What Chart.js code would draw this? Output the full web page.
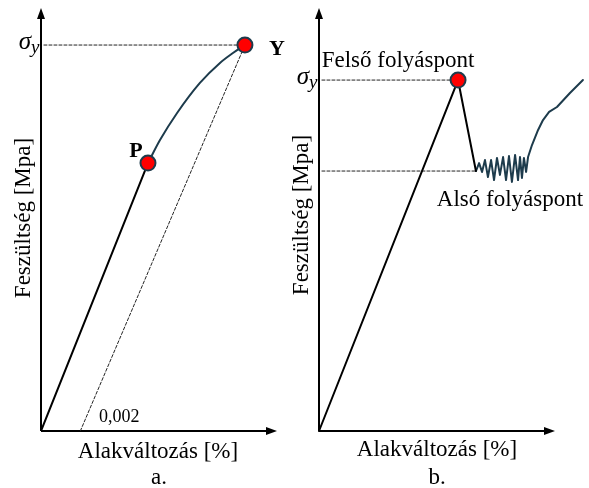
<!DOCTYPE html>
<html>
<head>
<meta charset="utf-8">
<script src="https://cdn.jsdelivr.net/npm/chart.js@4.4.0/dist/chart.umd.min.js"></script>
<style>
  html, body { margin: 0; padding: 0; background: #ffffff; }
  #wrap { position: relative; width: 589px; height: 488px; overflow: hidden; }
  canvas { position: absolute; top: 0; }
  #panelA { left: 0; }
  #panelB { left: 280px; }
</style>
</head>
<body>
<div id="wrap">
  <canvas id="panelA" width="295" height="488"></canvas>
  <canvas id="panelB" width="309" height="488"></canvas>
</div>
<script>
// ---- Panel a: offset (0,2 %) yield method ----
const strainAxisMaxA = 0.012;
const stressAxisMaxA = 280;
const offsetStrain = 0.002;
const proportionalPoint = [0.00544, 178.2];   // P
const yieldPointA = [0.01037, 256.7];         // Y
const plasticStrainA = [0.00544, 0.00605, 0.00692, 0.00808, 0.00910, 0.00976, 0.01037];
const plasticStressA = [178.2, 193.5, 211.5, 231.5, 244.8, 251.4, 256.7];

// ---- Panel b: upper / lower yield point ----
const strainAxisMaxB = 1.2;     // where the drawn strain axis (arrow) ends
const strainRangeMaxB = 1.35;   // the hardening curve runs on past the arrow
const stressAxisMaxB = 280;
const upperYield = [0.707, 233.4];
const lowerYield = [0.798, 172.9];
const serrationStrain = [0.798, 0.814, 0.829, 0.844, 0.859, 0.875, 0.890, 0.905, 0.920, 0.936,
                         0.951, 0.966, 0.981, 0.997, 1.012, 1.022, 1.032, 1.042, 1.053, 1.063];
const serrationStress = [172.9, 178.2, 172.3, 180.2, 168.9, 180.2, 166.9, 181.6, 170.3, 182.2,
                         166.9, 182.9, 165.6, 183.6, 166.9, 182.2, 168.3, 181.6, 172.3, 182.2];
const hardeningStrain = [1.063, 1.083, 1.114, 1.139, 1.170, 1.210, 1.276, 1.342];
const hardeningStress = [182.2, 190.2, 200.2, 206.8, 212.2, 215.5, 224.8, 233.4];

const SERIF = '"Liberation Serif", "Times New Roman", serif';
const CURVE = '#1d3b4c';
const MARKER_EDGE = '#1d3b4c';

const pts = (xs, ys) => xs.map((x, i) => ({ x, y: ys[i] }));

function drawArrowAxes(ctx, ox, oy, topY, rightX) {
  ctx.save();
  ctx.strokeStyle = '#000';
  ctx.fillStyle = '#000';
  ctx.lineWidth = 2;
  ctx.beginPath();
  ctx.moveTo(ox, oy);
  ctx.lineTo(ox, topY + 8);
  ctx.moveTo(ox, oy);
  ctx.lineTo(rightX - 8, oy);
  ctx.stroke();
  // arrow heads
  ctx.beginPath();
  ctx.moveTo(ox, topY - 2);
  ctx.lineTo(ox - 4, topY + 9);
  ctx.lineTo(ox + 4, topY + 9);
  ctx.closePath();
  ctx.fill();
  ctx.beginPath();
  ctx.moveTo(rightX, oy);
  ctx.lineTo(rightX - 11, oy - 4);
  ctx.lineTo(rightX - 11, oy + 4);
  ctx.closePath();
  ctx.fill();
  ctx.restore();
}

function drawSigmaY(ctx, rightX, baseY) {
  ctx.save();
  ctx.fillStyle = '#000';
  ctx.textBaseline = 'alphabetic';
  ctx.textAlign = 'right';
  ctx.font = 'italic 25px ' + SERIF;
  ctx.fillText('σ', rightX - 10, baseY);
  ctx.textAlign = 'left';
  ctx.font = 'italic 19px ' + SERIF;
  ctx.fillText('y', rightX - 10, baseY + 4);
  ctx.restore();
}

function drawVerticalTitle(ctx, text, cx, cy) {
  ctx.save();
  ctx.translate(cx, cy);
  ctx.rotate(-Math.PI / 2);
  ctx.fillStyle = '#000';
  ctx.font = '23px ' + SERIF;
  ctx.textAlign = 'center';
  ctx.textBaseline = 'middle';
  ctx.fillText(text, 0, 0);
  ctx.restore();
}

function drawText(ctx, text, x, y, font, align) {
  ctx.save();
  ctx.fillStyle = '#000';
  ctx.font = font;
  ctx.textAlign = align || 'center';
  ctx.textBaseline = 'middle';
  ctx.fillText(text, x, y);
  ctx.restore();
}

const hiddenScales = (xMax, yMax) => ({
  x: { type: 'linear', min: 0, max: xMax, display: false },
  y: { type: 'linear', min: 0, max: yMax, display: false }
});

const baseOptions = {
  responsive: false,
  animation: false,
  devicePixelRatio: 1,
  plugins: { legend: { display: false }, tooltip: { enabled: false } },
  elements: { point: { radius: 0 }, line: { borderCapStyle: 'round', borderJoinStyle: 'round' } }
};

// ---- Panel a chart ----
new Chart(document.getElementById('panelA'), {
  type: 'scatter',
  data: {
    datasets: [
      { // P and Y markers
        data: [{ x: proportionalPoint[0], y: proportionalPoint[1] }, { x: yieldPointA[0], y: yieldPointA[1] }],
        pointRadius: 7.5, pointBackgroundColor: '#ff0000', pointBorderColor: MARKER_EDGE, pointBorderWidth: 2,
        showLine: false, order: 0, clip: false
      },
      { // elastic part
        data: [{ x: 0, y: 0 }, { x: proportionalPoint[0], y: proportionalPoint[1] }],
        showLine: true, borderColor: '#000', borderWidth: 2, order: 2
      },
      { // plastic part
        data: pts(plasticStrainA, plasticStressA),
        showLine: true, borderColor: CURVE, borderWidth: 2, cubicInterpolationMode: 'monotone', order: 2
      },
      { // 0,2 % offset line
        data: [{ x: offsetStrain, y: 0 }, { x: yieldPointA[0], y: yieldPointA[1] }],
        showLine: true, borderColor: '#222', borderWidth: 1, borderDash: [3, 2], order: 3
      },
      { // yield stress level
        data: [{ x: 0.00015, y: yieldPointA[1] }, { x: yieldPointA[0], y: yieldPointA[1] }],
        showLine: true, borderColor: '#222', borderWidth: 1, borderDash: [3, 2], order: 3
      }
    ]
  },
  options: Object.assign({}, baseOptions, {
    layout: { autoPadding: false, padding: { left: 41, top: 10, right: 18, bottom: 57 } },
    scales: hiddenScales(strainAxisMaxA, stressAxisMaxA)
  }),
  plugins: [{
    id: 'annotateA',
    beforeDatasetsDraw(chart) {
      const a = chart.chartArea;
      drawArrowAxes(chart.ctx, a.left, a.bottom, a.top, a.right);
    },
    afterDatasetsDraw(chart) {
      const ctx = chart.ctx, xs = chart.scales.x, ys = chart.scales.y;
      const area = chart.chartArea;
      const px = xs.getPixelForValue(proportionalPoint[0]), py = ys.getPixelForValue(proportionalPoint[1]);
      const yx = xs.getPixelForValue(yieldPointA[0]), yy = ys.getPixelForValue(yieldPointA[1]);
      drawText(ctx, 'P', px - 12, py - 12, 'bold 22px ' + SERIF);
      drawText(ctx, 'Y', yx + 32, yy + 4, 'bold 22px ' + SERIF);
      drawSigmaY(ctx, area.left, yy + 4);
      drawText(ctx, '0,002', xs.getPixelForValue(offsetStrain) + 39, area.bottom - 14, '18px ' + SERIF);
      drawVerticalTitle(ctx, 'Feszültség [Mpa]', 24, 218);
      drawText(ctx, 'Alakváltozás [%]', 158, 452, '23px ' + SERIF);
      drawText(ctx, 'a.', 159, 478, '23px ' + SERIF);
    }
  }]
});

// ---- Panel b chart ----
new Chart(document.getElementById('panelB'), {
  type: 'scatter',
  data: {
    datasets: [
      { // upper yield point marker
        data: [{ x: upperYield[0], y: upperYield[1] }],
        pointRadius: 7.5, pointBackgroundColor: '#ff0000', pointBorderColor: MARKER_EDGE, pointBorderWidth: 2,
        showLine: false, order: 0, clip: false
      },
      { // elastic rise and drop to the lower yield point
        data: [{ x: 0, y: 0 }, { x: upperYield[0], y: upperYield[1] }, { x: lowerYield[0], y: lowerYield[1] }],
        showLine: true, borderColor: '#000', borderWidth: 2, order: 2, clip: false
      },
      { // serrated yielding and strain hardening
        data: pts(serrationStrain, serrationStress).concat(pts(hardeningStrain, hardeningStress).slice(1)),
        showLine: true, borderColor: CURVE, borderWidth: 2, order: 2, clip: false
      },
      { // upper yield level
        data: [{ x: 0.015, y: upperYield[1] }, { x: upperYield[0], y: upperYield[1] }],
        showLine: true, borderColor: '#222', borderWidth: 1, borderDash: [3, 2], order: 3
      },
      { // lower yield level
        data: [{ x: 0.015, y: lowerYield[1] }, { x: lowerYield[0], y: lowerYield[1] }],
        showLine: true, borderColor: '#222', borderWidth: 1, borderDash: [3, 2], order: 3
      }
    ]
  },
  options: Object.assign({}, baseOptions, {
    layout: { autoPadding: false, padding: { left: 39, top: 10, right: 4.5, bottom: 57 } },
    scales: hiddenScales(strainRangeMaxB, stressAxisMaxB)
  }),
  plugins: [{
    id: 'annotateB',
    beforeDatasetsDraw(chart) {
      const a = chart.chartArea;
      drawArrowAxes(chart.ctx, a.left, a.bottom, a.top, chart.scales.x.getPixelForValue(strainAxisMaxB));
    },
    afterDatasetsDraw(chart) {
      const ctx = chart.ctx, xs = chart.scales.x, ys = chart.scales.y;
      const area = chart.chartArea;
      const ux = xs.getPixelForValue(upperYield[0]), uy = ys.getPixelForValue(upperYield[1]);
      const lx = xs.getPixelForValue(lowerYield[0]), ly = ys.getPixelForValue(lowerYield[1]);
      drawSigmaY(ctx, area.left, uy + 4);
      drawText(ctx, 'Felső folyáspont', ux - 60, uy - 19, '23px ' + SERIF);
      drawText(ctx, 'Alsó folyáspont', lx + 34, ly + 29, '23px ' + SERIF);
      drawVerticalTitle(ctx, 'Feszültség [Mpa]', 22, 215);
      drawText(ctx, 'Alakváltozás [%]', 157, 450, '23px ' + SERIF);
      drawText(ctx, 'b.', 157, 478, '23px ' + SERIF);
    }
  }]
});
</script>
</body>
</html>
